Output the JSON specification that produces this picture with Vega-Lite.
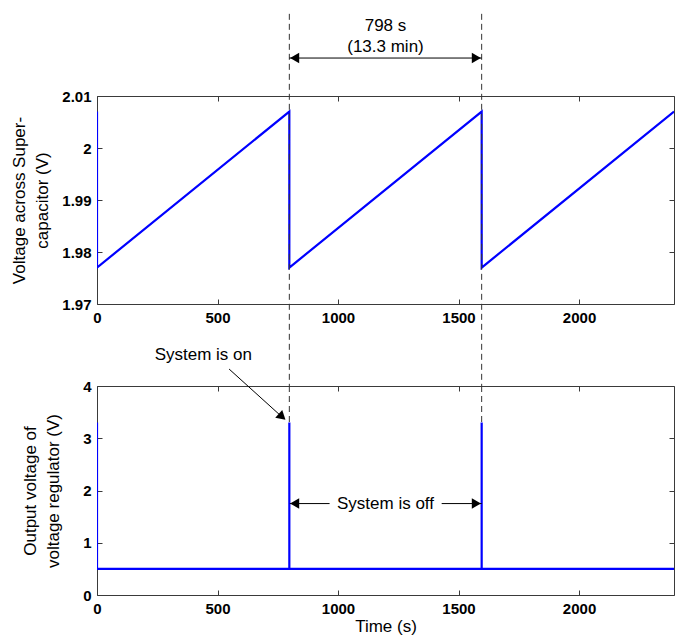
{
  "$schema": "https://vega.github.io/schema/vega-lite/v6.json",
  "padding": {"left": 10, "top": 12, "right": 5, "bottom": 0},
  "autosize": {"type": "pad"},
  "bounds": "flush",
  "spacing": 82,
  "background": "white",
  "config": {
    "view": {"stroke": "#3a3a3a", "strokeWidth": 1},
    "font": "Liberation Sans",
    "axis": {
      "grid": false, "domain": false, "tickColor": "#3a3a3a", "tickSize": 5, "tickWidth": 1, "offset": -5,
      "labelPadding": 6, "labelFont": "Liberation Sans Narrow, Liberation Sans",
      "labelFontWeight": "bold", "labelFontSize": 15, "labelColor": "#000",
      "titleFont": "Liberation Sans", "titleFontWeight": "normal", "titleFontSize": 17,
      "titleColor": "#000", "labelFlush": false, "titleLineHeight": 23
    },
    "axisY": {"labelPadding": 6}
  },
  "datasets": {
    "top": [
      {"i": 0, "t": 0, "v": 2.007},
      {"i": 1, "t": 0, "v": 1.977},
      {"i": 2, "t": 798, "v": 2.007},
      {"i": 3, "t": 798, "v": 1.977},
      {"i": 4, "t": 1596, "v": 2.007},
      {"i": 5, "t": 1596, "v": 1.977},
      {"i": 6, "t": 2394, "v": 2.007}
    ],
    "bottom": [
      {"i": 0, "t": 0, "v": 3.3},
      {"i": 1, "t": 0, "v": 0.5},
      {"i": 2, "t": 798, "v": 0.5},
      {"i": 3, "t": 798, "v": 3.3},
      {"i": 4, "t": 798, "v": 0.5},
      {"i": 5, "t": 1596, "v": 0.5},
      {"i": 6, "t": 1596, "v": 3.3},
      {"i": 7, "t": 1596, "v": 0.5},
      {"i": 8, "t": 2394, "v": 0.5}
    ],
    "markTop": [
      {"t": 798, "y1": 2.0258, "y2": 1.9542},
      {"t": 1596, "y1": 2.0258, "y2": 1.9542}
    ],
    "markBottom": [
      {"t": 798, "y1": 4.0, "y2": 3.3},
      {"t": 1596, "y1": 4.0, "y2": 3.3}
    ],
    "spanArrow": [{"x1": 798, "x2": 1596, "y": 2.0173}],
    "spanHeads": [
      {"t": 820, "y": 2.0173, "dir": "triangle-left"},
      {"t": 1574, "y": 2.0173, "dir": "triangle-right"}
    ],
    "spanText": [
      {"t": 1197, "y": 2.0235, "label": "798 s"},
      {"t": 1197, "y": 2.0194, "label": "(13.3 min)"}
    ],
    "onText": [{"t": 441, "y": 4.6, "label": "System is on"}],
    "onArrow": [{"x1": 548, "y1": 4.325, "x2": 772, "y2": 3.39}],
    "onHead": [{"t": 768, "y": 3.41}],
    "offText": [{"t": 1197, "y": 1.75, "label": "System is off"}],
    "offArrows": [
      {"x1": 800, "x2": 965, "y": 1.75},
      {"x1": 1430, "x2": 1596, "y": 1.75}
    ],
    "offHeads": [
      {"t": 820, "y": 1.75, "dir": "triangle-left"},
      {"t": 1574, "y": 1.75, "dir": "triangle-right"}
    ]
  },
  "vconcat": [
    {
      "width": 577,
      "height": 208,
      "layer": [
        {
          "data": {"name": "top"},
          "mark": {"type": "line", "color": "#0000ff", "strokeWidth": 2.2, "clip": true},
          "encoding": {
            "x": {"field": "t", "type": "quantitative",
                  "scale": {"domain": [0, 2394], "nice": false, "zero": false},
                  "axis": {"orient": "bottom", "values": [0, 500, 1000, 1500, 2000], "format": "d", "title": null}},
            "y": {"field": "v", "type": "quantitative",
                  "scale": {"domain": [1.97, 2.01], "nice": false, "zero": false},
                  "axis": {"orient": "left", "values": [1.97, 1.98, 1.99, 2, 2.01], "format": ".2~f",
                           "title": ["Voltage across Super-", "capacitor (V)"], "titlePadding": 10}},
            "order": {"field": "i"}
          }
        },
        {
          "data": {"name": "markTop"},
          "mark": {"type": "rule", "color": "#333", "strokeDash": [6, 4], "strokeWidth": 1},
          "encoding": {
            "x": {"field": "t", "type": "quantitative",
                  "scale": {"domain": [0, 2394], "nice": false, "zero": false},
                  "axis": {"orient": "top", "values": [0, 500, 1000, 1500, 2000], "labels": false, "title": null}},
            "y": {"field": "y1", "type": "quantitative",
                  "scale": {"domain": [1.97, 2.01], "nice": false, "zero": false},
                  "axis": {"orient": "right", "values": [1.97, 1.98, 1.99, 2, 2.01], "labels": false, "title": null}},
            "y2": {"field": "y2"}
          }
        },
        {
          "data": {"name": "spanArrow"},
          "mark": {"type": "rule", "color": "#000", "strokeWidth": 1},
          "encoding": {
            "x": {"field": "x1", "type": "quantitative", "axis": null},
            "x2": {"field": "x2"},
            "y": {"field": "y", "type": "quantitative", "axis": null}
          }
        },
        {
          "data": {"name": "spanHeads"},
          "mark": {"type": "point", "filled": true, "color": "#000", "size": 110, "opacity": 1},
          "encoding": {
            "x": {"field": "t", "type": "quantitative", "axis": null},
            "y": {"field": "y", "type": "quantitative", "axis": null},
            "shape": {"field": "dir", "type": "nominal", "scale": null}
          }
        },
        {
          "data": {"name": "spanText"},
          "mark": {"type": "text", "font": "Liberation Sans", "fontSize": 17, "color": "#000", "baseline": "middle"},
          "encoding": {
            "x": {"field": "t", "type": "quantitative", "axis": null},
            "y": {"field": "y", "type": "quantitative", "axis": null},
            "text": {"field": "label"}
          }
        }
      ]
    },
    {
      "width": 577,
      "height": 209,
      "layer": [
        {
          "data": {"name": "bottom"},
          "mark": {"type": "line", "color": "#0000ff", "strokeWidth": 2.2, "clip": true},
          "encoding": {
            "x": {"field": "t", "type": "quantitative",
                  "scale": {"domain": [0, 2394], "nice": false, "zero": false},
                  "axis": {"orient": "bottom", "values": [0, 500, 1000, 1500, 2000], "format": "d", "title": "Time (s)", "titlePadding": 2}},
            "y": {"field": "v", "type": "quantitative",
                  "scale": {"domain": [0, 4], "nice": false, "zero": false},
                  "axis": {"orient": "left", "values": [0, 1, 2, 3, 4],
                           "title": ["Output voltage of", "voltage regulator (V)"], "titlePadding": 20}},
            "order": {"field": "i"}
          }
        },
        {
          "data": {"name": "markBottom"},
          "mark": {"type": "rule", "color": "#333", "strokeDash": [6, 4], "strokeWidth": 1},
          "encoding": {
            "x": {"field": "t", "type": "quantitative",
                  "scale": {"domain": [0, 2394], "nice": false, "zero": false},
                  "axis": {"orient": "top", "values": [0, 500, 1000, 1500, 2000], "labels": false, "title": null}},
            "y": {"field": "y1", "type": "quantitative",
                  "scale": {"domain": [0, 4], "nice": false, "zero": false},
                  "axis": {"orient": "right", "values": [0, 1, 2, 3, 4], "labels": false, "title": null}},
            "y2": {"field": "y2"}
          }
        },
        {
          "data": {"name": "onText"},
          "mark": {"type": "text", "font": "Liberation Sans", "fontSize": 17, "color": "#000", "baseline": "middle"},
          "encoding": {
            "x": {"field": "t", "type": "quantitative", "axis": null},
            "y": {"field": "y", "type": "quantitative", "axis": null},
            "text": {"field": "label"}
          }
        },
        {
          "data": {"name": "onArrow"},
          "mark": {"type": "rule", "color": "#000", "strokeWidth": 1},
          "encoding": {
            "x": {"field": "x1", "type": "quantitative", "axis": null},
            "x2": {"field": "x2"},
            "y": {"field": "y1", "type": "quantitative", "axis": null},
            "y2": {"field": "y2"}
          }
        },
        {
          "data": {"name": "onHead"},
          "mark": {"type": "point", "shape": "triangle-right", "angle": 42, "filled": true, "color": "#000", "size": 110, "opacity": 1},
          "encoding": {
            "x": {"field": "t", "type": "quantitative", "axis": null},
            "y": {"field": "y", "type": "quantitative", "axis": null}
          }
        },
        {
          "data": {"name": "offText"},
          "mark": {"type": "text", "font": "Liberation Sans", "fontSize": 17, "color": "#000", "baseline": "middle"},
          "encoding": {
            "x": {"field": "t", "type": "quantitative", "axis": null},
            "y": {"field": "y", "type": "quantitative", "axis": null},
            "text": {"field": "label"}
          }
        },
        {
          "data": {"name": "offArrows"},
          "mark": {"type": "rule", "color": "#000", "strokeWidth": 1},
          "encoding": {
            "x": {"field": "x1", "type": "quantitative", "axis": null},
            "x2": {"field": "x2"},
            "y": {"field": "y", "type": "quantitative", "axis": null}
          }
        },
        {
          "data": {"name": "offHeads"},
          "mark": {"type": "point", "filled": true, "color": "#000", "size": 110, "opacity": 1},
          "encoding": {
            "x": {"field": "t", "type": "quantitative", "axis": null},
            "y": {"field": "y", "type": "quantitative", "axis": null},
            "shape": {"field": "dir", "type": "nominal", "scale": null}
          }
        }
      ]
    }
  ]
}
